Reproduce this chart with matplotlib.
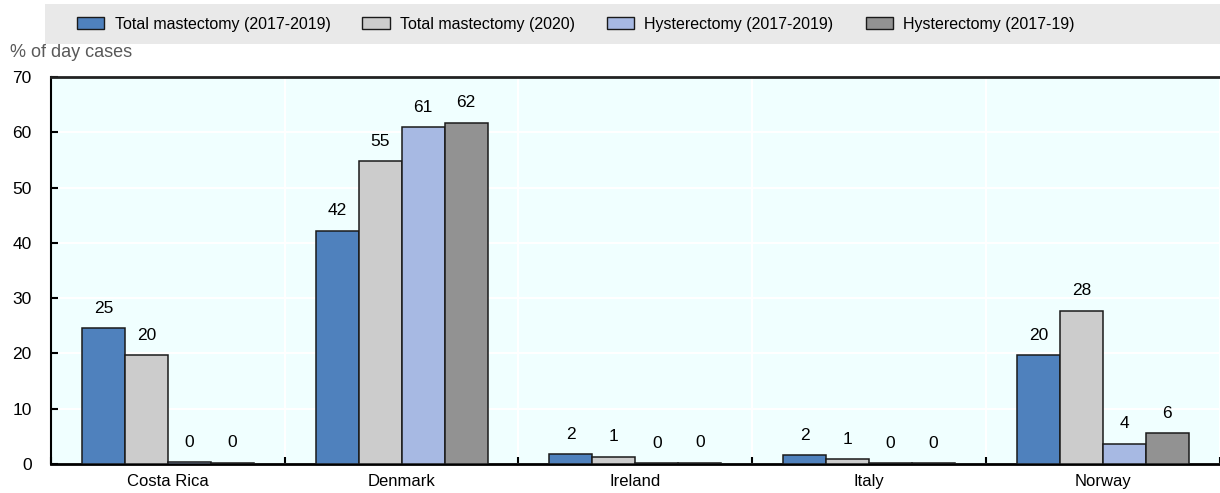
import numpy as np
import matplotlib.pyplot as plt
from matplotlib.patches import Patch, Rectangle

plt.rcParams['font.family'] = ['Liberation Sans', 'DejaVu Sans']

countries = ['Costa Rica', 'Denmark', 'Ireland', 'Italy', 'Norway']
series = ['Total mastectomy (2017-2019)', 'Total mastectomy (2020)',
          'Hysterectomy (2017-2019)', 'Hysterectomy (2017-19)']
mast_1719 = [24.6, 42.2, 1.8, 1.55, 19.7]
mast_2020 = [19.7, 54.8, 1.3, 0.85, 27.7]
hyst_1719 = [0.3, 60.9, 0.1, 0.1, 3.7]
hyst_1719b = [0.2, 61.7, 0.2, 0.1, 5.6]
colors = ['#4F81BD', '#CCCCCC', '#A7B9E3', '#929292']

fig = plt.figure(figsize=(12.2, 4.93), dpi=100)
ax = fig.add_axes([0.0418, 0.0588, 0.958, 0.785])
ax.set_facecolor('#F0FFFF')

x = np.arange(len(countries))
w = 0.184
for i, vals in enumerate([mast_1719, mast_2020, hyst_1719, hyst_1719b]):
    pos = x + (i - 1.5) * w
    ax.bar(pos, vals, w, color=colors[i], edgecolor='#1a1a1a', linewidth=1.1, zorder=3)
    for p, v in zip(pos, vals):
        ax.annotate(f'{v:.0f}', (p, v), xytext=(0, 9), textcoords='offset points',
                    ha='center', va='bottom', fontsize=12.5, color='#000000')

ax.set_xlim(-0.5, 4.5)
ax.set_ylim(0, 70)
ax.set_yticks(range(0, 71, 10))
ax.set_xticks(x)
ax.set_xticklabels(countries, fontsize=12)
ax.set_xticks(np.arange(-0.5, 4.6, 1), minor=True)
ax.tick_params(axis='x', which='major', length=0, pad=7)
ax.tick_params(axis='x', which='minor', direction='in', length=5, width=1.5, color='#000000')
ax.tick_params(axis='y', direction='in', length=5, width=1.5, labelsize=12.5, pad=14)
ax.grid(axis='y', color='white', linewidth=1.5, zorder=0)
ax.grid(axis='x', which='minor', color='white', linewidth=1.5, zorder=0)

ax.spines['right'].set_visible(False)
ax.spines['left'].set_linewidth(1.5)
ax.spines['bottom'].set_linewidth(2)
ax.spines['top'].set_linewidth(2)
ax.spines['top'].set_color('#222222')

# legend band across the top
fig.patches.append(Rectangle((0.037, 0.91), 0.963, 0.082, transform=fig.transFigure,
                             facecolor='#E9E9E9', edgecolor='none', zorder=0))
handles = [Patch(facecolor=c, edgecolor='#1a1a1a', linewidth=1.0) for c in colors]
fig.legend(handles, series, loc='center', bbox_to_anchor=(0.472, 0.951), ncol=4,
           frameon=False, fontsize=11.5, handlelength=1.7, handleheight=0.8,
           columnspacing=2.0, handletextpad=0.65)

fig.text(0.008, 0.893, '% of day cases', fontsize=13, color='#595959',
         ha='left', va='center')

fig.savefig('out.png', dpi=100)
